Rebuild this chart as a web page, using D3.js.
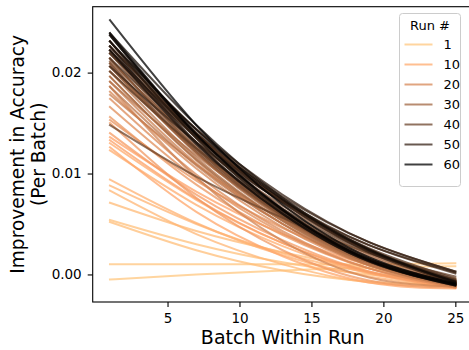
<!DOCTYPE html>
<html>
<head>
<meta charset="utf-8">
<script src="https://cdn.jsdelivr.net/npm/d3@7"></script>
<style>
  html, body { margin: 0; padding: 0; background: #fff; }
  svg { display: block; font-family: "DejaVu Sans", sans-serif; }
</style>
</head>
<body>
<div id="chart"></div>
<script>
const batches = [1, 7, 13, 19, 25];
const runIds = d3.range(1, 61);
const legendRuns = [1, 10, 20, 30, 40, 50, 60];
const xTicks = [5, 10, 15, 20, 25];
const yTicks = [0, 0.01, 0.02];

// improvement in accuracy per run (index 0 = run 1)
const accAtBatch1 = [
  -0.0005, 0.0010, 0.0054, 0.0052, 0.0071, 0.0083, 0.0088, 0.0094, 0.0123, 0.0130,
  0.0126, 0.0136, 0.0133, 0.0140, 0.0150, 0.0156, 0.0153, 0.0166, 0.0174, 0.0181,
  0.0186, 0.0191, 0.0178, 0.0196, 0.0186, 0.0201, 0.0191, 0.0206, 0.0196, 0.0209,
  0.0201, 0.0214, 0.0206, 0.0219, 0.0211, 0.0214, 0.0222, 0.0209, 0.0226, 0.0148,
  0.0219, 0.0201, 0.0231, 0.0222, 0.0214, 0.0226, 0.0219, 0.0231, 0.0206, 0.0226,
  0.0222, 0.0237, 0.0231, 0.0226, 0.0239, 0.0222, 0.0231, 0.0237, 0.0239, 0.0252
];
const accAtBatch7 = [
  0.0000, 0.0010, 0.0030, 0.0024, 0.0043, 0.0040, 0.0050, 0.0051, 0.0069, 0.0074,
  0.0062, 0.0082, 0.0075, 0.0079, 0.0076, 0.0089, 0.0093, 0.0095, 0.0099, 0.0105,
  0.0096, 0.0110, 0.0109, 0.0113, 0.0108, 0.0116, 0.0118, 0.0120, 0.0114, 0.0121,
  0.0124, 0.0125, 0.0121, 0.0127, 0.0131, 0.0125, 0.0130, 0.0123, 0.0140, 0.0097,
  0.0136, 0.0125, 0.0135, 0.0139, 0.0136, 0.0140, 0.0140, 0.0144, 0.0131, 0.0144,
  0.0137, 0.0139, 0.0135, 0.0131, 0.0148, 0.0129, 0.0143, 0.0138, 0.0139, 0.0148
];
const accAtBatch13 = [
  0.0004, 0.0010, 0.0012, 0.0004, 0.0022, 0.0010, 0.0021, 0.0019, 0.0028, 0.0031,
  0.0018, 0.0040, 0.0031, 0.0034, 0.0024, 0.0039, 0.0046, 0.0041, 0.0043, 0.0047,
  0.0033, 0.0050, 0.0054, 0.0050, 0.0050, 0.0053, 0.0060, 0.0055, 0.0053, 0.0056,
  0.0063, 0.0058, 0.0057, 0.0059, 0.0068, 0.0059, 0.0060, 0.0058, 0.0072, 0.0056,
  0.0071, 0.0065, 0.0063, 0.0073, 0.0074, 0.0073, 0.0077, 0.0075, 0.0072, 0.0079,
  0.0071, 0.0065, 0.0062, 0.0060, 0.0076, 0.0060, 0.0074, 0.0064, 0.0064, 0.0069
];
const accAtBatch19 = [
  0.0007, 0.0010, 0.0000, -0.0007, 0.0006, -0.0008, 0.0002, -0.0002, 0.0001, 0.0003,
  -0.0008, 0.0009, 0.0002, 0.0003, -0.0006, 0.0006, 0.0012, 0.0006, 0.0006, 0.0009,
  -0.0003, 0.0009, 0.0015, 0.0009, 0.0011, 0.0010, 0.0018, 0.0012, 0.0012, 0.0012,
  0.0020, 0.0013, 0.0014, 0.0013, 0.0023, 0.0014, 0.0014, 0.0015, 0.0023, 0.0021,
  0.0024, 0.0022, 0.0015, 0.0026, 0.0029, 0.0024, 0.0032, 0.0025, 0.0029, 0.0032,
  0.0022, 0.0016, 0.0014, 0.0013, 0.0025, 0.0013, 0.0024, 0.0015, 0.0014, 0.0017
];
const accAtBatch25 = [
  0.0008, 0.0011, -0.0006, -0.0010, -0.0004, -0.0012, -0.0008, -0.0013, -0.0013, -0.0011,
  -0.0014, -0.0010, -0.0013, -0.0012, -0.0013, -0.0011, -0.0009, -0.0012, -0.0013, -0.0010,
  -0.0012, -0.0011, -0.0010, -0.0012, -0.0009, -0.0011, -0.0008, -0.0010, -0.0009, -0.0010,
  -0.0008, -0.0009, -0.0007, -0.0010, -0.0006, -0.0008, -0.0009, -0.0007, -0.0008, -0.0002,
  -0.0006, -0.0005, -0.0009, -0.0004, 0.0001, -0.0007, 0.0003, -0.0006, 0.0002, 0.0003,
  -0.0008, -0.0009, -0.0010, -0.0011, -0.0008, -0.0010, -0.0007, -0.0010, -0.0011, -0.0009
];

const width = 469, height = 350;
const margin = {left: 92.7, top: 6.7, right: -3.6, bottom: 48};
const lineWidth = 2, lineAlpha = 0.75;

const cols = [accAtBatch1, accAtBatch7, accAtBatch13, accAtBatch19, accAtBatch25];
const series = runIds.map((run, i) => ({
  run: run,
  points: batches.map((b, j) => ({batch: b, acc: cols[j][i]}))
}));

// copper colormap, reversed (run 1 light, run 60 dark)
function copperR(run) {
  const t = 1 - (run - 1) / 59;
  return d3.rgb(255 * Math.min(1, t / 0.809524), 255 * 0.7812 * t, 255 * 0.4975 * t).toString();
}

const svg = d3.select('#chart').append('svg')
  .attr('width', width)
  .attr('height', height);

const x0 = margin.left, x1 = width - margin.right;
const y0 = height - margin.bottom, y1 = margin.top;

// matplotlib-style 5% margins
const allAcc = cols.flat();
const yExt = d3.extent(allAcc);
const yPad = (yExt[1] - yExt[0]) * 0.05;
const xPad = (batches[batches.length - 1] - batches[0]) * 0.05;

const xScale = d3.scaleLinear()
  .domain([batches[0] - xPad, batches[batches.length - 1] + xPad])
  .range([x0, x1]);
const yScale = d3.scaleLinear()
  .domain([yExt[0] - yPad, yExt[1] + yPad])
  .range([y0, y1]);

const line = d3.line()
  .x(d => xScale(d.batch))
  .y(d => yScale(d.acc))
  .curve(d3.curveNatural);

svg.append('g')
  .selectAll('path')
  .data(series)
  .enter()
  .append('path')
  .attr('d', d => line(d.points))
  .attr('fill', 'none')
  .attr('stroke', d => copperR(d.run))
  .attr('stroke-opacity', lineAlpha)
  .attr('stroke-width', lineWidth)
  .attr('stroke-linecap', 'square');

// axes
const xAxis = d3.axisBottom(xScale).tickValues(xTicks).tickSize(5).tickPadding(6);
const yAxis = d3.axisLeft(yScale).tickValues(yTicks).tickSize(5).tickPadding(6)
  .tickFormat(d3.format('.2f'));

const gx = svg.append('g')
  .attr('transform', 'translate(0,' + y0 + ')')
  .call(xAxis);
const gy = svg.append('g')
  .attr('transform', 'translate(' + x0 + ',0)')
  .call(yAxis);

[gx, gy].forEach(g => {
  g.select('.domain').remove();
  g.selectAll('line').attr('stroke', '#000').attr('stroke-width', 1.1);
  g.selectAll('text').attr('font-size', 13.5).attr('fill', '#000')
    .attr('font-family', '"DejaVu Sans", sans-serif');
});

// frame
svg.append('rect')
  .attr('x', x0)
  .attr('y', y1)
  .attr('width', x1 - x0)
  .attr('height', y0 - y1)
  .attr('fill', 'none')
  .attr('stroke', '#000')
  .attr('stroke-width', 1.1);

// axis labels
const xMid = (x0 + x1) / 2, yMid = (y0 + y1) / 2;
svg.append('text')
  .attr('x', xMid)
  .attr('y', 344)
  .attr('text-anchor', 'middle')
  .attr('font-size', 19)
  .text('Batch Within Run');

svg.append('text')
  .attr('transform', 'translate(24,' + yMid + ') rotate(-90)')
  .attr('text-anchor', 'middle')
  .attr('font-size', 18.6)
  .text('Improvement in Accuracy');
svg.append('text')
  .attr('transform', 'translate(45,' + yMid + ') rotate(-90)')
  .attr('text-anchor', 'middle')
  .attr('font-size', 18.6)
  .text('(Per Batch)');

// legend
const legend = svg.append('g').attr('transform', 'translate(399.5,13.5)');
legend.append('rect')
  .attr('width', 61)
  .attr('height', 173)
  .attr('rx', 3)
  .attr('fill', '#fff')
  .attr('fill-opacity', 0.8)
  .attr('stroke', '#cccccc')
  .attr('stroke-width', 1);
legend.append('text')
  .attr('x', 30.5)
  .attr('y', 16)
  .attr('text-anchor', 'middle')
  .attr('font-size', 13)
  .text('Run #');

const items = legend.selectAll('g.item')
  .data(legendRuns)
  .enter()
  .append('g')
  .attr('class', 'item')
  .attr('transform', (d, i) => 'translate(0,' + (31 + i * 20) + ')');
items.append('line')
  .attr('x1', 5)
  .attr('x2', 33)
  .attr('stroke', d => copperR(d))
  .attr('stroke-opacity', lineAlpha)
  .attr('stroke-width', lineWidth);
items.append('text')
  .attr('x', 44)
  .attr('y', 4.5)
  .attr('font-size', 13)
  .text(d => d);
</script>
</body>
</html>
